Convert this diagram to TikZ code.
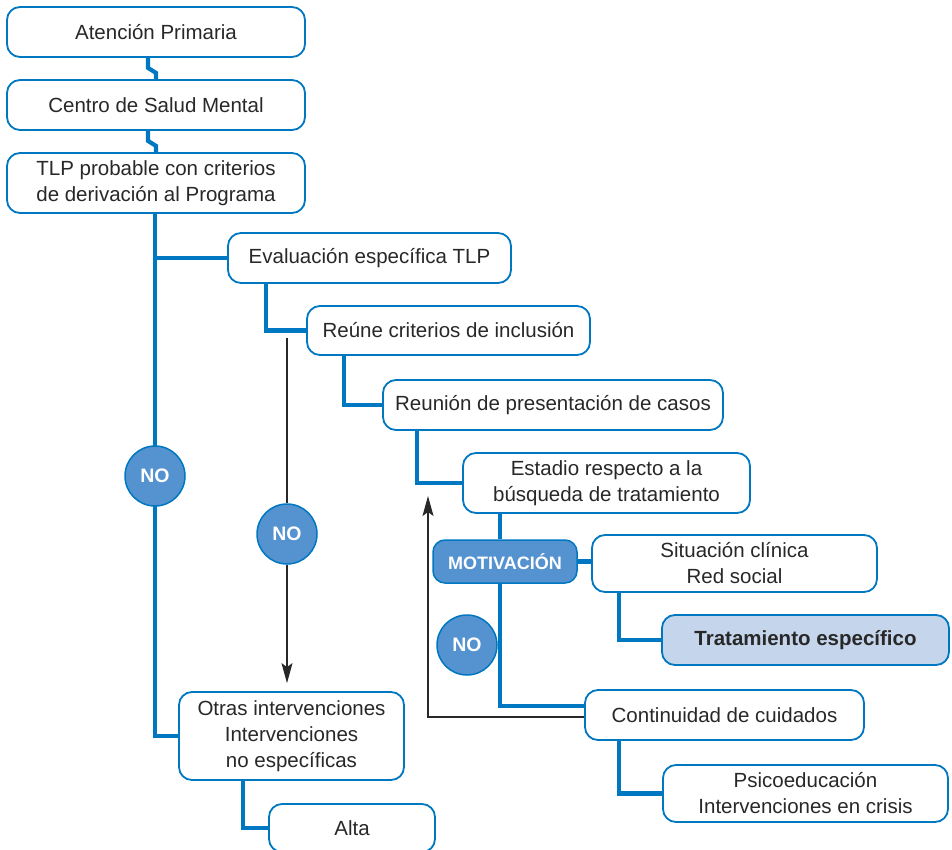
\documentclass[tikz,border=0pt]{standalone}
\usepackage{fontspec}
\setmainfont{Liberation Sans}
\usetikzlibrary{calc,arrows.meta,backgrounds}
\definecolor{lineblue}{RGB}{0,119,193}
\definecolor{fillblue}{RGB}{84,146,208}
\definecolor{lightfill}{RGB}{197,213,236}
\definecolor{txt}{RGB}{40,40,40}
\begin{document}
\begin{tikzpicture}[x=1pt,y=-1pt,
  box/.style={draw=lineblue,line width=1.8pt,rounded corners=13pt,fill=white,
    inner sep=0pt,align=center,text=txt,font=\fontsize{20.5}{26}\selectfont},
  motivbox/.style={draw=lineblue,line width=1.5pt,rounded corners=12pt,fill=fillblue,
    inner sep=0pt,text=white,font=\fontsize{18}{20}\selectfont\bfseries},
  nocirc/.style={circle,draw=lineblue,line width=1.5pt,fill=fillblue,minimum size=60pt,
    inner sep=0pt,text=white,font=\fontsize{19.5}{20}\selectfont\bfseries},
  conn/.style={draw=lineblue,line width=4.2pt},
  thinarrow/.style={draw=txt,line width=1.1pt,-{Stealth[length=20pt,width=11pt,inset=4pt]}},
  thinline/.style={draw=txt,line width=1.1pt}]
\useasboundingbox (0,0) rectangle (952,850);
% boxes
\node[box,minimum width=298pt,minimum height=50pt] (ap) at (156,32) {Atención Primaria};
\node[box,minimum width=298pt,minimum height=50pt] (csm) at (156,105) {Centro de Salud Mental};
\node[box,minimum width=298pt,minimum height=60pt] (tlp) at (156,183) {TLP probable con criterios\\de derivación al Programa};
\node[box,minimum width=283pt,minimum height=50pt] (eval) at (369.5,258) {Evaluación específica TLP};
\node[box,minimum width=283pt,minimum height=49pt] (reune) at (448.5,330.5) {Reúne criterios de inclusión};
\node[box,minimum width=340pt,minimum height=50pt] (reunion) at (553,405) {Reunión de presentación de casos};
\node[box,minimum width=287pt,minimum height=60pt] (estadio) at (606.5,483) {Estadio respecto a la\\búsqueda de tratamiento};
\node[motivbox,minimum width=144pt,minimum height=43pt] (motiv) at (505,561.5) {MOTIVACIÓN};
\node[box,minimum width=285pt,minimum height=57pt] (sit) at (734.5,563.5) {Situación clínica\\Red social};
\node[box,minimum width=287pt,minimum height=50pt,fill=lightfill,font=\fontsize{20.5}{26}\selectfont\bfseries] (trat) at (805.5,640) {Tratamiento específico};
\node[box,minimum width=279pt,minimum height=50pt] (cont) at (724.5,715) {Continuidad de cuidados};
\node[box,minimum width=285pt,minimum height=57pt] (psico) at (805.5,793.5) {Psicoeducación\\Intervenciones en crisis};
\node[box,minimum width=225pt,minimum height=88pt] (otras) at (291.5,736) {Otras intervenciones\\Intervenciones\\no específicas};
\node[box,minimum width=166pt,minimum height=48pt] (alta) at (352,828) {Alta};
% helper coordinates
\coordinate (mx) at (500,0);
\coordinate (cw) at ([yshift=9pt]cont.west);
\begin{scope}[on background layer]
% zigzag connectors
\draw[conn] ([xshift=-8pt]ap.south) -- ++(0,10) -- ++(8,5) |- (csm.north);
\draw[conn] ([xshift=-8pt]csm.south) -- ++(0,10) -- ++(8,5) |- (tlp.north);
% thick connectors
\draw[conn] ([xshift=-1pt]tlp.south) |- (otras.west);
\draw[conn] ([xshift=-1pt]tlp.south |- eval.west) -- (eval.west);
\draw[conn] ($(eval.south west)+(39,0)$) |- (reune.west);
\draw[conn] ($(reune.south west)+(38,0)$) |- (reunion.west);
\draw[conn] ($(reunion.south west)+(35,0)$) |- (estadio.west);
\draw[conn] ($(sit.south west)+(28,0)$) |- (trat.west);
\draw[conn] ($(cont.south west)+(35,0)$) |- (psico.west);
\draw[conn] ($(otras.south west)+(65,0)$) |- (alta.west);
\draw[conn] (mx |- estadio.south) -- (mx |- motiv.north);
\draw[conn] (motiv.east) -- (motiv.east -| sit.west);
\draw[conn] (mx |- motiv.south) |- (cw);
\end{scope}
% NO circles
\node[nocirc] (no1) at (155,476) {NO};
\node[nocirc] (no2) at (287,534) {NO};
\node[nocirc] (no3) at (467,645) {NO};
% thin arrows
\coordinate (a1) at (287,338);
\draw[thinline] (a1) -- (no2.north);
\draw[thinarrow] (no2.south) -- ($(otras.north -| no2)+(0,-8)$);
\coordinate (fb) at (428,496);
\draw[thinarrow] ([yshift=-2pt]cont.west) -| (fb);
\end{tikzpicture}
\end{document}
